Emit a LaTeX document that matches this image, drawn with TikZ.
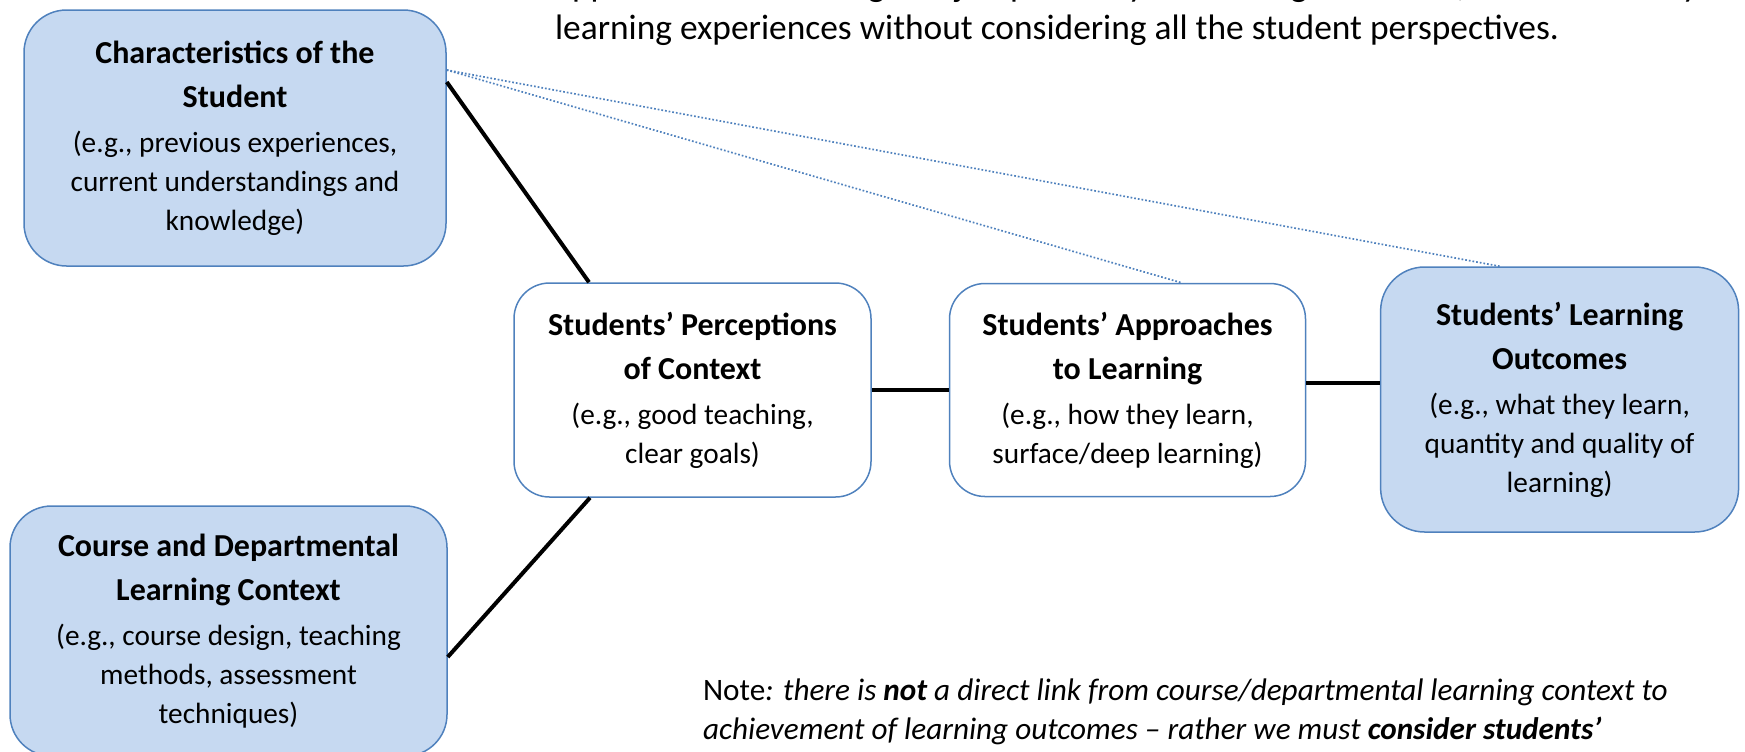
\documentclass[tikz,border=0pt]{standalone}
\usepackage{fontspec}
\setmainfont{Carlito}
\usepackage{tikz}
\usetikzlibrary{positioning,calc}
\definecolor{boxfill}{HTML}{C6D9F1}
\definecolor{boxline}{HTML}{4F81BD}
\newcommand{\hd}[1]{{\fontsize{16}{19.5}\selectfont\bfseries #1}}

\begin{document}
\begin{tikzpicture}[x=0.5pt,y=-0.5pt]
  \tikzstyle{box} = [draw=boxline,line width=0.75pt,align=center,inner sep=0pt,font=\fontsize{14.65}{19.5}\selectfont];
  \tikzstyle{shaded} = [box,fill=boxfill];
  \tikzset{link/.style={draw=boxline,line width=0.85pt,densely dotted},
    tie/.style={line width=2pt}};
  \useasboundingbox (0,0) rectangle (1745,751);
  \node[anchor=base west,align=left,font=\fontsize{17.7}{21.5}\selectfont] (intro) at (548,39)
    {approaches to learning and jump directly to learning outcomes, we inaccurately design\\
     learning experiences without considering all the student perspectives.};
  \node[shaded,minimum width=211pt,minimum height=128pt,rounded corners=21.3pt] (chars) at (235,138)
    {\hd{Characteristics of the}\\[2.75pt]\hd{Student}\\[2.75pt](e.g., previous experiences,\\current understandings and\\knowledge)};
  \node[shaded,minimum width=218.5pt,minimum height=125pt,rounded corners=20.8pt] (course) at (228.5,631)
    {\hd{Course and Departmental}\\[2.75pt]\hd{Learning Context}\\[2.75pt](e.g., course design, teaching\\methods, assessment\\techniques)};
  \node[box,minimum width=178.5pt,minimum height=107pt,rounded corners=17.8pt] (percep) at (692.5,390)
    {\hd{Students’ Perceptions}\\[2.75pt]\hd{of Context}\\[2.75pt](e.g., good teaching,\\clear goals)};
  \node[box,right=38.5pt of percep,minimum width=178pt,minimum height=106.5pt,rounded corners=17.75pt] (approach)
    {\hd{Students’ Approaches}\\[2.75pt]\hd{to Learning}\\[2.75pt](e.g., how they learn,\\surface/deep learning)};
  \node[shaded,right=36.8pt of approach,yshift=-4.75pt,minimum width=179pt,minimum height=132.5pt,rounded corners=22pt] (outcome)
    {\hd{Students’ Learning}\\[2.75pt]\hd{Outcomes}\\[2.75pt](e.g., what they learn,\\quantity and quality of\\learning)};
  \node[anchor=base west,align=left,font=\fontsize{15.6}{19.5}\selectfont] (note) at (696,739)
    {Note\itshape: there is {\bfseries not} a direct link from course/departmental learning context to\\
     \itshape achievement of learning outcomes – rather we must {\bfseries consider students’}};
  \draw[tie] ([yshift=28pt]chars.east) -- ([xshift=-51.75pt]percep.north);
  \draw[tie] ([yshift=-13pt]course.east) -- ([xshift=-51.25pt]percep.south);
  \draw[tie] (percep) -- (approach);
  \coordinate (ad) at ([yshift=3.5pt]approach.east);
  \draw[tie] (ad) -- (ad -| outcome.west);
  \draw[link] ([yshift=34pt]chars.east) -- ([xshift=27pt]approach.north);
  \draw[link] ([yshift=34pt]chars.east) -- ([xshift=-30pt]outcome.north);
\end{tikzpicture}
\end{document}
